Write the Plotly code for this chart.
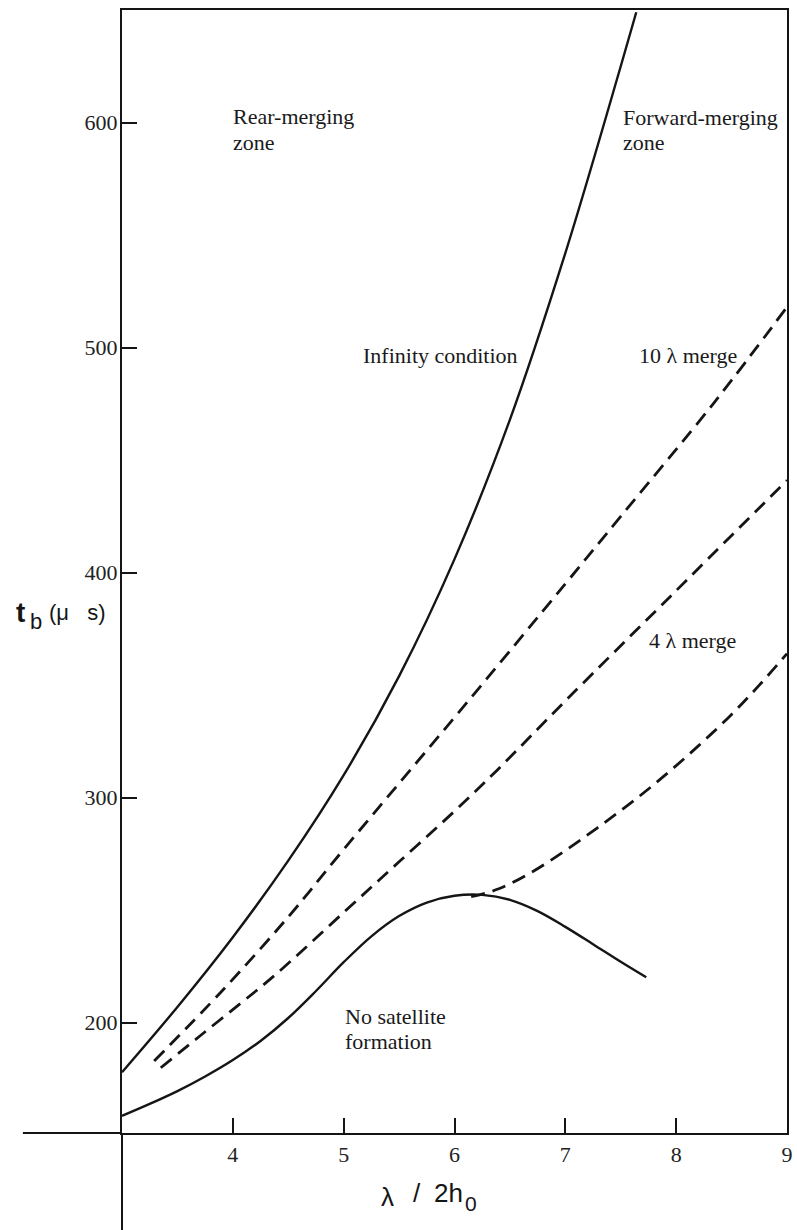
import plotly.graph_objects as go

# Breakup time t_b (µs) against wavelength ratio λ/2h0 for each boundary curve
infinity_x = [3.0, 3.5, 4.0, 4.5, 5.0, 5.5, 6.0, 6.5, 7.0, 7.5, 7.64]
infinity_y = [178, 207, 238, 272, 310, 354, 406, 468, 542, 625, 649]

merge10_x = [3.29, 3.9, 4.5, 5.0, 6.125, 7.0, 7.5, 8.35, 9.0]
merge10_y = [183, 214, 247, 277, 343, 395, 425, 476, 518]

merge4_x = [3.35, 3.7, 4.08, 4.4, 5.0, 5.5, 6.0, 6.38, 7.0, 8.0, 9.0]
merge4_y = [180, 194, 209, 222, 249, 271.5, 294, 312, 343, 392, 441]

branch_x = [6.15, 6.4, 6.7, 7.0, 7.3, 7.6, 7.9, 8.2, 8.5, 8.75, 9.0]
branch_y = [256, 259.5, 267, 276.5, 287, 298, 310, 323, 337, 350, 364]

nosat_x = [3.0, 3.25, 3.5, 3.75, 4.0, 4.25, 4.5, 4.75, 5.0, 5.25, 5.5, 5.75,
           6.0, 6.25, 6.5, 6.75, 7.0, 7.25, 7.5, 7.73]
nosat_y = [158.6, 163.9, 169.6, 176.1, 183.4, 191.9, 202.1, 214.1, 226.9, 238.4, 247.4, 253.4,
           256.4, 256.8, 254.6, 249.6, 242.6, 234.9, 227.1, 220.2]

x_ticks = [4, 5, 6, 7, 8, 9]
y_ticks = [200, 300, 400, 500, 600]

# Region / curve labels: (text, x, y)
labels = [
    ("Rear-merging", 3.981, 602.5),
    ("zone", 3.981, 591.1),
    ("Forward-merging", 7.506, 602.2),
    ("zone", 7.506, 591.1),
    ("Infinity condition", 5.157, 496.4),
    ("10 λ merge", 7.646, 496.4),
    ("4 λ merge", 7.736, 369.9),
    ("No satellite", 4.994, 202.7),
    ("formation", 4.994, 191.6),
]

INK = "#151515"
SERIF = "Liberation Serif"
SANS = "Liberation Sans"

W, H = 797, 1230
ML, MR, MT, MB = 122, 4, 10, 97
PW, PH = W - ML - MR, H - MT - MB


def px(xp):
    return (xp - ML) / PW


def py(yp):
    return (H - MB - yp) / PH


fig = go.Figure()

solid = dict(color=INK, width=2.4, shape="spline", smoothing=1.0)
dashed = dict(color=INK, width=2.8, dash="14px,8px", shape="spline", smoothing=1.0)

fig.add_trace(go.Scatter(x=infinity_x, y=infinity_y, mode="lines", line=solid))
fig.add_trace(go.Scatter(x=nosat_x, y=nosat_y, mode="lines", line=solid))
fig.add_trace(go.Scatter(x=merge10_x, y=merge10_y, mode="lines", line=dashed))
fig.add_trace(go.Scatter(x=merge4_x, y=merge4_y, mode="lines", line=dashed))
fig.add_trace(go.Scatter(x=branch_x, y=branch_y, mode="lines", line=dashed))

axis_common = dict(
    showgrid=False,
    zeroline=False,
    showline=True,
    linewidth=2,
    linecolor=INK,
    mirror=True,
    ticks="inside",
    ticklen=15,
    tickwidth=2,
    tickcolor=INK,
    tickfont=dict(family=SERIF, size=22, color="#222"),
)

fig.update_xaxes(range=[3, 9], tickvals=x_ticks, ticktext=[str(v) for v in x_ticks],
                 ticklabelstandoff=1, **axis_common)
fig.update_yaxes(range=[151, 650], tickvals=y_ticks, ticktext=[str(v) for v in y_ticks],
                 ticklabelstandoff=-2, **axis_common)

annotations = []
for text, x, y in labels:
    annotations.append(dict(
        text=text, x=x, y=y, xref="x", yref="y", xanchor="left", yanchor="middle",
        showarrow=False, font=dict(family=SERIF, size=22, color="#1a1a1a"),
    ))

# y-axis title: t_b (µ s)
annotations += [
    dict(text="<b>t</b>", x=px(20), y=py(612), xref="paper", yref="paper",
         xanchor="center", yanchor="middle", showarrow=False,
         font=dict(family=SANS, size=28, color=INK)),
    dict(text="b", x=px(35), y=py(621), xref="paper", yref="paper",
         xanchor="center", yanchor="middle", showarrow=False,
         font=dict(family=SANS, size=22, color=INK)),
    dict(text="(μ\u00a0\u00a0\u00a0s)", x=px(46), y=py(613), xref="paper", yref="paper",
         xanchor="left", yanchor="middle", showarrow=False,
         font=dict(family=SANS, size=22, color=INK)),
]

# x-axis title: λ / 2h0
annotations += [
    dict(text="λ", x=px(390), y=py(1197), xref="paper", yref="paper",
         xanchor="center", yanchor="middle", showarrow=False,
         font=dict(family=SANS, size=26, color=INK)),
    dict(text="/", x=px(420), y=py(1193), xref="paper", yref="paper",
         xanchor="center", yanchor="middle", showarrow=False,
         font=dict(family=SANS, size=26, color=INK)),
    dict(text="2h", x=px(435), y=py(1193), xref="paper", yref="paper",
         xanchor="left", yanchor="middle", showarrow=False,
         font=dict(family=SANS, size=26, color=INK)),
    dict(text="0", x=px(466), y=py(1203), xref="paper", yref="paper",
         xanchor="left", yanchor="middle", showarrow=False,
         font=dict(family=SANS, size=21, color=INK)),
]

# axis lines continuing past the plotting frame
shapes = [
    dict(type="line", xref="paper", yref="paper", x0=px(22), x1=0, y0=0, y1=0,
         line=dict(color=INK, width=2)),
    dict(type="line", xref="paper", yref="paper", x0=0, x1=0, y0=py(H + 5), y1=0,
         line=dict(color=INK, width=2)),
]

fig.update_layout(
    width=W, height=H,
    margin=dict(l=ML, r=MR, t=MT, b=MB),
    paper_bgcolor="white", plot_bgcolor="white",
    showlegend=False,
    annotations=annotations,
    shapes=shapes,
)

fig.write_html("out.html")
